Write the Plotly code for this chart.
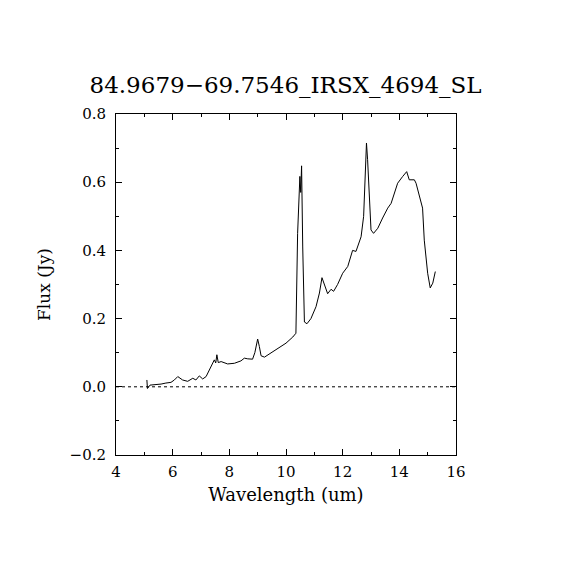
import plotly.graph_objects as go

# spectrum
wave = [5.09, 5.11, 5.20, 5.40, 5.59, 5.76, 5.94, 6.06, 6.18, 6.35, 6.53, 6.71, 6.82,
        6.94, 7.06, 7.18, 7.29, 7.41, 7.47, 7.52, 7.56, 7.61, 7.71, 7.94, 8.18, 8.41,
        8.53, 8.65, 8.82, 8.90, 9.00, 9.06, 9.12, 9.24, 9.47, 9.71, 10.00, 10.24, 10.35,
        10.41, 10.49, 10.52, 10.55, 10.59, 10.65, 10.74, 10.88, 11.06, 11.18, 11.27,
        11.47, 11.59, 11.68, 11.82, 12.00, 12.18, 12.35, 12.47, 12.65, 12.74, 12.79,
        12.84, 12.88, 12.94, 13.00, 13.09, 13.24, 13.41, 13.59, 13.71, 13.94, 14.12,
        14.26, 14.35, 14.53, 14.59, 14.71, 14.82, 14.88, 15.00, 15.09, 15.18, 15.27]
flux = [0.020, -0.005, 0.005, 0.006, 0.008, 0.011, 0.013, 0.020, 0.030, 0.020, 0.016,
        0.025, 0.020, 0.032, 0.023, 0.030, 0.050, 0.069, 0.079, 0.070, 0.094, 0.071,
        0.074, 0.067, 0.069, 0.076, 0.084, 0.082, 0.081, 0.100, 0.140, 0.118, 0.091,
        0.087, 0.099, 0.113, 0.128, 0.146, 0.157, 0.450, 0.617, 0.570, 0.648, 0.410,
        0.190, 0.185, 0.200, 0.235, 0.275, 0.320, 0.273, 0.286, 0.280, 0.300, 0.333,
        0.353, 0.400, 0.397, 0.440, 0.500, 0.636, 0.715, 0.666, 0.558, 0.460, 0.450,
        0.465, 0.495, 0.524, 0.538, 0.597, 0.617, 0.631, 0.607, 0.607, 0.597, 0.558,
        0.524, 0.430, 0.333, 0.290, 0.304, 0.338]

x_ticks = [4, 6, 8, 10, 12, 14, 16]
y_ticks = [-0.2, 0.0, 0.2, 0.4, 0.6, 0.8]

fig = go.Figure()
fig.add_trace(go.Scatter(x=wave, y=flux, mode='lines',
                         line=dict(color='black', width=1), showlegend=False))
fig.add_trace(go.Scatter(x=[4, 16], y=[0, 0], mode='lines',
                         line=dict(color='black', width=1, dash='dot'), showlegend=False))

axis_common = dict(showgrid=False, zeroline=False, showline=True, linecolor='black',
                   linewidth=1, mirror='ticks', ticks='inside', ticklen=6,
                   tickcolor='black', tickfont=dict(family='DejaVu Serif', size=15, color='black'))

fig.update_xaxes(range=[4, 16], tickvals=x_ticks, ticktext=[str(v) for v in x_ticks],
                 ticklabelstandoff=3,
                 minor=dict(dtick=1, ticks='inside', ticklen=3, tickcolor='black'),
                 title=dict(text='Wavelength (um)', standoff=8,
                            font=dict(family='DejaVu Serif', size=18, color='black')),
                 **axis_common)
fig.update_yaxes(range=[-0.2, 0.8], tickvals=y_ticks, tickformat='.1f',
                 ticklabelstandoff=6,
                 minor=dict(dtick=0.1, ticks='inside', ticklen=3, tickcolor='black'),
                 title=dict(text='Flux (Jy)', standoff=14,
                            font=dict(family='DejaVu Serif', size=17, color='black')),
                 **axis_common)

fig.update_layout(
    width=570, height=570,
    margin=dict(l=108, r=122, t=106, b=123),
    paper_bgcolor='white', plot_bgcolor='white',
    title=dict(text='84.9679\u221269.7546_IRSX_4694_SL', x=0.487, xanchor='center',
               y=0.865, yanchor='middle',
               font=dict(family='DejaVu Serif', size=23, color='black')),
)

fig.write_html("out.html")
